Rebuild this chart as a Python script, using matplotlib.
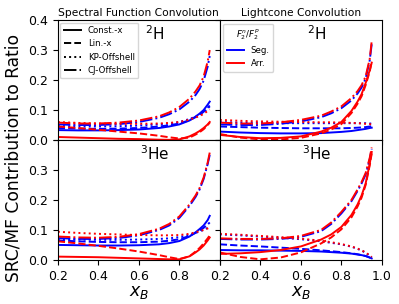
import numpy as np
import matplotlib
matplotlib.use('Agg')
import matplotlib.pyplot as plt
from matplotlib.lines import Line2D

# x_B grid at which values were read
xb = [0.2, 0.3, 0.4, 0.5, 0.6, 0.7, 0.75, 0.8, 0.85, 0.88, 0.9, 0.92, 0.94, 0.95]

# 2H, spectral function convolution
h2_sf_seg_const = [0.033, 0.032, 0.032, 0.033, 0.035, 0.040, 0.045, 0.052, 0.065, 0.078, 0.088, 0.100, 0.118, 0.128]
h2_sf_seg_lin   = [0.040, 0.038, 0.037, 0.038, 0.040, 0.045, 0.049, 0.055, 0.066, 0.076, 0.084, 0.094, 0.108, 0.115]
h2_sf_seg_kp    = [0.047, 0.045, 0.045, 0.046, 0.048, 0.052, 0.055, 0.060, 0.070, 0.078, 0.085, 0.093, 0.105, 0.112]
h2_sf_seg_cj    = [0.052, 0.050, 0.050, 0.053, 0.060, 0.074, 0.086, 0.102, 0.128, 0.150, 0.170, 0.198, 0.245, 0.280]
h2_sf_arr_const = [0.010, 0.008, 0.006, 0.004, 0.003, 0.001, 0.0005, 0.002, 0.012, 0.022, 0.030, 0.040, 0.052, 0.060]
h2_sf_arr_lin   = [0.045, 0.040, 0.034, 0.028, 0.022, 0.014, 0.009, 0.005, 0.008, 0.018, 0.026, 0.036, 0.050, 0.058]
h2_sf_arr_kp    = [0.060, 0.057, 0.055, 0.054, 0.054, 0.055, 0.057, 0.060, 0.068, 0.075, 0.080, 0.087, 0.097, 0.102]
h2_sf_arr_cj    = [0.058, 0.055, 0.055, 0.058, 0.065, 0.079, 0.092, 0.110, 0.138, 0.162, 0.182, 0.212, 0.262, 0.300]

# 2H, lightcone convolution
h2_lc_seg_const = [0.028, 0.025, 0.023, 0.022, 0.022, 0.023, 0.025, 0.027, 0.030, 0.033, 0.035, 0.037, 0.040, 0.041]
h2_lc_seg_lin   = [0.045, 0.043, 0.041, 0.040, 0.039, 0.039, 0.039, 0.039, 0.040, 0.041, 0.042, 0.043, 0.045, 0.046]
h2_lc_seg_kp    = [0.060, 0.058, 0.057, 0.056, 0.056, 0.056, 0.056, 0.056, 0.056, 0.056, 0.056, 0.056, 0.055, 0.055]
h2_lc_seg_cj    = [0.052, 0.050, 0.050, 0.054, 0.062, 0.076, 0.089, 0.106, 0.132, 0.155, 0.175, 0.205, 0.265, 0.320]
h2_lc_arr_const = [0.017, 0.010, 0.006, 0.007, 0.012, 0.028, 0.041, 0.060, 0.097, 0.128, 0.153, 0.190, 0.232, 0.258]
h2_lc_arr_lin   = [0.020, 0.008, 0.002, 0.002, 0.007, 0.022, 0.035, 0.053, 0.090, 0.121, 0.146, 0.183, 0.228, 0.262]
h2_lc_arr_kp    = [0.067, 0.064, 0.062, 0.061, 0.060, 0.059, 0.059, 0.058, 0.057, 0.056, 0.055, 0.054, 0.053, 0.052]
h2_lc_arr_cj    = [0.058, 0.055, 0.055, 0.059, 0.067, 0.081, 0.095, 0.112, 0.140, 0.163, 0.183, 0.212, 0.270, 0.330]

# 3He, spectral function convolution
he3_sf_seg_const = [0.050, 0.049, 0.048, 0.048, 0.049, 0.052, 0.056, 0.063, 0.078, 0.092, 0.103, 0.115, 0.133, 0.147]
he3_sf_seg_lin   = [0.065, 0.062, 0.060, 0.059, 0.059, 0.061, 0.064, 0.069, 0.080, 0.090, 0.098, 0.107, 0.118, 0.125]
he3_sf_seg_kp    = [0.070, 0.068, 0.067, 0.067, 0.068, 0.070, 0.072, 0.076, 0.084, 0.090, 0.095, 0.100, 0.107, 0.110]
he3_sf_seg_cj    = [0.073, 0.070, 0.070, 0.073, 0.082, 0.100, 0.115, 0.140, 0.180, 0.210, 0.235, 0.270, 0.320, 0.350]
he3_sf_arr_const = [0.011, 0.010, 0.009, 0.007, 0.005, 0.003, 0.002, 0.002, 0.012, 0.025, 0.035, 0.048, 0.065, 0.075]
he3_sf_arr_lin   = [0.062, 0.055, 0.047, 0.038, 0.028, 0.016, 0.009, 0.003, 0.012, 0.028, 0.040, 0.055, 0.072, 0.082]
he3_sf_arr_kp    = [0.094, 0.090, 0.087, 0.085, 0.083, 0.082, 0.082, 0.083, 0.087, 0.092, 0.096, 0.100, 0.105, 0.108]
he3_sf_arr_cj    = [0.078, 0.075, 0.074, 0.077, 0.086, 0.104, 0.120, 0.145, 0.185, 0.215, 0.240, 0.275, 0.325, 0.358]

# 3He, lightcone convolution
he3_lc_seg_const = [0.033, 0.032, 0.032, 0.031, 0.030, 0.028, 0.026, 0.024, 0.021, 0.018, 0.016, 0.013, 0.008, 0.005]
he3_lc_seg_lin   = [0.052, 0.048, 0.045, 0.041, 0.037, 0.032, 0.029, 0.026, 0.022, 0.019, 0.016, 0.013, 0.008, 0.005]
he3_lc_seg_kp    = [0.085, 0.082, 0.078, 0.074, 0.069, 0.062, 0.057, 0.052, 0.044, 0.037, 0.031, 0.024, 0.014, 0.008]
he3_lc_seg_cj    = [0.070, 0.068, 0.068, 0.070, 0.077, 0.096, 0.120, 0.155, 0.196, 0.230, 0.255, 0.285, 0.335, 0.370]
he3_lc_arr_const = [0.020, 0.022, 0.026, 0.033, 0.045, 0.068, 0.085, 0.110, 0.150, 0.185, 0.215, 0.255, 0.320, 0.360]
he3_lc_arr_lin   = [0.025, 0.010, 0.002, 0.008, 0.025, 0.055, 0.075, 0.102, 0.142, 0.178, 0.208, 0.250, 0.315, 0.355]
he3_lc_arr_kp    = [0.087, 0.084, 0.080, 0.076, 0.071, 0.064, 0.059, 0.053, 0.045, 0.038, 0.032, 0.025, 0.015, 0.010]
he3_lc_arr_cj    = [0.072, 0.070, 0.070, 0.072, 0.080, 0.100, 0.125, 0.160, 0.200, 0.235, 0.260, 0.290, 0.340, 0.375]

models = ['Const.-x', 'Lin.-x', 'KP-Offshell', 'CJ-Offshell']
styles = ['-', '--', ':', '-.']
ratios = ['Seg.', 'Arr.']
colors = ['blue', 'red']

yticks = [0.0, 0.1, 0.2, 0.3, 0.4]
xticks = [0.2, 0.4, 0.6, 0.8, 1.0]

panels = [
    [(h2_sf_seg_const, h2_sf_seg_lin, h2_sf_seg_kp, h2_sf_seg_cj),
     (h2_sf_arr_const, h2_sf_arr_lin, h2_sf_arr_kp, h2_sf_arr_cj)],
    [(h2_lc_seg_const, h2_lc_seg_lin, h2_lc_seg_kp, h2_lc_seg_cj),
     (h2_lc_arr_const, h2_lc_arr_lin, h2_lc_arr_kp, h2_lc_arr_cj)],
    [(he3_sf_seg_const, he3_sf_seg_lin, he3_sf_seg_kp, he3_sf_seg_cj),
     (he3_sf_arr_const, he3_sf_arr_lin, he3_sf_arr_kp, he3_sf_arr_cj)],
    [(he3_lc_seg_const, he3_lc_seg_lin, he3_lc_seg_kp, he3_lc_seg_cj),
     (he3_lc_arr_const, he3_lc_arr_lin, he3_lc_arr_kp, he3_lc_arr_cj)],
]
nuclei = ['$^2$H', '$^2$H', '$^3$He', '$^3$He']

fig, axs = plt.subplots(2, 2, figsize=(3.99, 3.04), dpi=100)
fig.subplots_adjust(left=0.145, right=0.957, top=0.934, bottom=0.145, wspace=0, hspace=0)

for k, ax in enumerate(axs.flat):
    for c, series in zip(colors, panels[k]):
        for ls, y in zip(styles, series):
            ax.plot(xb, y, color=c, ls=ls, lw=1.4)
    ax.text(0.6, 0.89, nuclei[k], transform=ax.transAxes, ha='center', va='center', fontsize=11)
    ax.set_xlim(0.2, 1.0)
    ax.set_ylim(0.0, 0.4)
    ax.set_xticks(xticks)
    ax.set_yticks(yticks)
    ax.tick_params(labelsize=9)

# only outer panels carry tick labels
axs[0, 0].set_xticklabels([])
axs[0, 1].set_xticklabels([])
axs[0, 1].set_yticklabels([])
axs[1, 1].set_yticklabels([])
axs[1, 0].set_yticklabels(['0.0', '0.1', '0.2', '0.3', ''])
axs[1, 0].set_xticklabels(['0.2', '0.4', '0.6', '0.8', ''])

for ax in axs[1]:
    ax.set_xlabel('$x_B$', fontsize=12.5, labelpad=0)

axs[0, 0].set_title('Spectral Function Convolution', fontsize=7.7, pad=3)
axs[0, 1].set_title('Lightcone Convolution', fontsize=7.7, pad=3)
fig.text(0.035, 0.479, 'SRC/MF Contribution to Ratio', rotation=90, ha='center', va='center', fontsize=12.3)

# legends
h1 = [Line2D([], [], color='k', ls=ls, lw=1.4) for ls in styles]
axs[0, 0].legend(h1, models, loc='upper left', fontsize=6.2, handlelength=2.0, borderaxespad=0.3)
h2 = [Line2D([], [], color=c, lw=1.4) for c in colors]
axs[0, 1].legend(h2, ratios, loc='upper left', fontsize=6.2, title='$F_2^n/F_2^p$',
                 title_fontsize=6.2, handlelength=2.0, borderaxespad=0.4)

fig.savefig('out.png', dpi=100)
